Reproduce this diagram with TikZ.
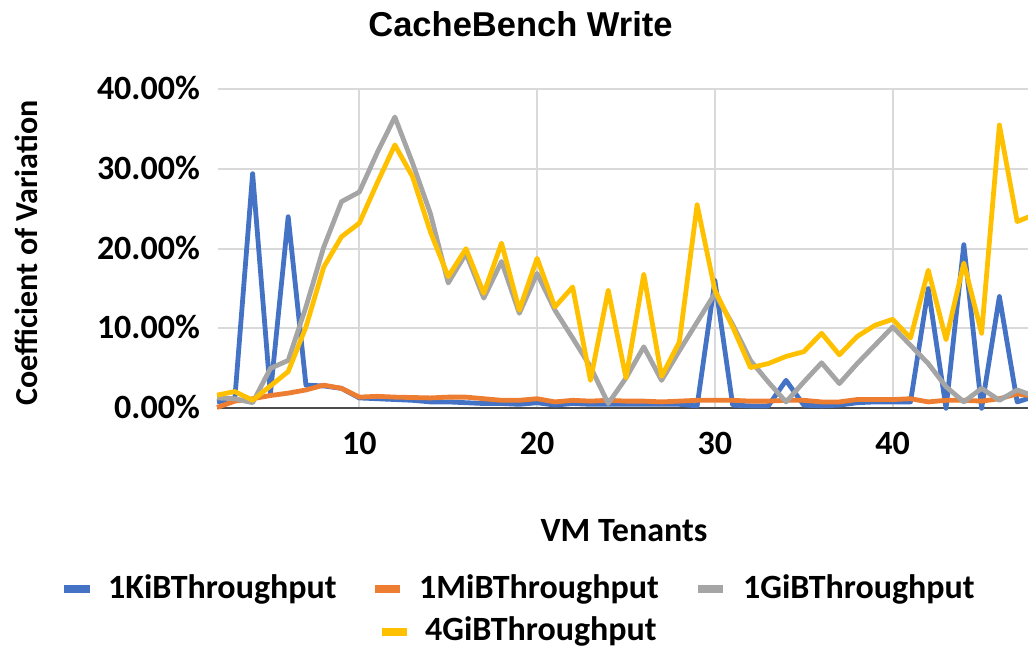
\documentclass[tikz,border=0pt]{standalone}
\usepackage{fontspec}
\setmainfont{Carlito}
\newfontfamily\headfont{Liberation Sans}
\definecolor{kib}{HTML}{4472C4}
\definecolor{mib}{HTML}{ED7D31}
\definecolor{gib}{HTML}{A5A5A5}
\definecolor{fourgib}{HTML}{FFC000}
\definecolor{gridgray}{HTML}{D9D9D9}
\begin{document}
\begin{tikzpicture}[x=1pt, y=1pt, line join=round,
  lbl/.style={font=\fontsize{34}{40}\selectfont\bfseries, inner sep=0pt},
  series/.style={line width=4.8pt},
  grid/.style={gridgray, line width=2pt}]
\useasboundingbox (0,0) rectangle (1028,653);
\node[font=\headfont\fontsize{34.5}{40}\selectfont\bfseries, inner sep=0pt, anchor=base] (title) at (520.5,616) {CacheBench Write};
\foreach \k in {1,...,4}
  \draw[grid] (218,244.7+79.8*\k) -- (1028,244.7+79.8*\k);
\foreach \v in {0,10,20,30,40}
  \node[lbl, anchor=base east] (ytick\v) at (200,244.7+7.98*\v-10.4) {\v.00\%};
\node[lbl, font=\fontsize{32}{38}\selectfont\bfseries, rotate=90, anchor=base] (ylabel) at (38,400) {Coefficient of Variation};
\node[lbl, anchor=base] (xlabel) at (624,111) {VM Tenants};
\begin{scope}[shift={(181.5,244.7)}, x=17.78pt, y=7.98pt]
  \foreach \t in {10,20,30,40} {
    \draw[grid] (\t,0) -- (\t,40);
    \node[lbl, anchor=base] (xtick\t) at (\t,-5.85) {\t};
  }
  \draw[black!70, line width=2pt] (2,0) -- (48,0);
  \clip (0,-5) rectangle (47.61,45);
  \draw[series, kib] (2,0.8) \foreach \v [count=\i from 3] in {1.2,29.4,1.8,24.0,2.9,2.8,2.5,1.3,1.2,1.1,1.0,0.8,0.8,0.7,0.6,0.6,0.5,0.7,0.4,0.6,0.5,0.5,0.5,0.5,0.5,0.5,0.3,16.0,0.4,0.3,0.3,3.5,0.4,0.3,0.4,0.7,0.8,0.8,0.8,15.0,0.0,20.5,0.0,14.0,0.8,1.5} { -- (\i,\v) };
  \draw[series, mib] (2,0.1) \foreach \v [count=\i from 3] in {0.9,1.2,1.6,1.9,2.3,2.9,2.5,1.4,1.5,1.4,1.35,1.3,1.4,1.4,1.2,1.0,1.0,1.2,0.8,1.0,0.9,1.0,0.9,0.9,0.8,0.9,1.0,1.0,1.0,0.9,0.9,1.0,1.0,0.8,0.8,1.1,1.1,1.1,1.2,0.8,1.0,1.0,0.9,1.2,1.8,1.5} { -- (\i,\v) };
  \draw[series, gib] (2,1.3) \foreach \v [count=\i from 3] in {1.2,0.7,5.0,6.0,12.7,20.2,25.9,27.1,32.0,36.5,30.7,24.4,15.7,19.4,13.8,18.4,11.9,16.9,12.3,8.8,5.2,0.6,3.8,7.7,3.5,7.2,10.8,14.4,10.5,6.0,3.3,0.8,3.3,5.7,3.1,5.6,7.9,10.2,7.9,5.6,2.7,0.8,2.5,1.0,2.3,1.5} { -- (\i,\v) };
  \draw[series, fourgib] (2,1.65) \foreach \v [count=\i from 3] in {2.1,1.0,2.8,4.6,10.2,17.7,21.5,23.2,28.2,33.0,29.0,22.1,16.5,20.0,14.4,20.7,12.3,18.8,12.7,15.2,3.5,14.8,3.8,16.8,4.0,8.3,25.5,14.8,10.2,5.1,5.6,6.5,7.1,9.4,6.7,9.0,10.4,11.15,8.8,17.3,8.6,18.2,9.4,35.5,23.4,24.3} { -- (\i,\v) };
\end{scope}
\fill[kib] (64,60) rectangle (90,68);
\node[lbl, anchor=base west] (leg1) at (108,54) {1KiBThroughput};
\fill[mib] (375,60) rectangle (400,68);
\node[lbl, anchor=base west] (leg2) at (419,54) {1MiBThroughput};
\fill[gib] (698,60) rectangle (723,68);
\node[lbl, anchor=base west] (leg3) at (743,54) {1GiBThroughput};
\fill[fourgib] (382,17) rectangle (407,25);
\node[lbl, anchor=base west] (leg4) at (425,12) {4GiBThroughput};
\end{tikzpicture}
\end{document}
